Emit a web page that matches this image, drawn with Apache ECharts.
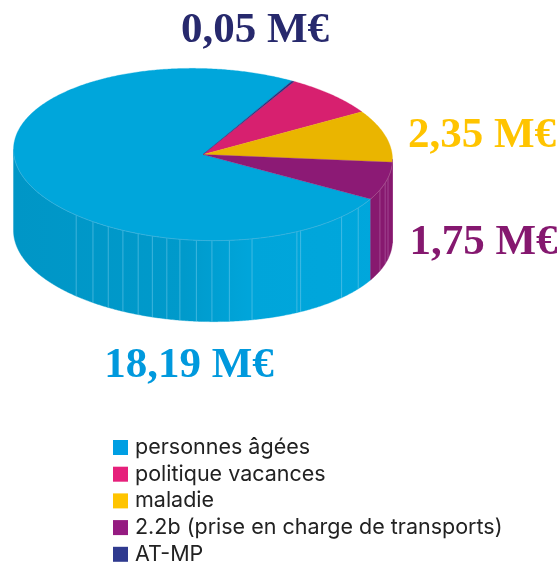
<!DOCTYPE html>
<html>
<head>
<meta charset="utf-8">
<style>html,body{margin:0;padding:0;background:#fff}#c{width:559px;height:562px}</style>
<script src="https://cdn.jsdelivr.net/npm/echarts@6/dist/echarts.min.js"></script>
</head>
<body>
<div id="c"></div>
<script>
const categories = ['personnes âgées', 'politique vacances', 'maladie', '2.2b (prise en charge de transports)', 'AT-MP'];
const values = [18.19, 1.9, 2.35, 1.75, 0.05];
const valueLabels = ['18,19 M€', null, '2,35 M€', '1,75 M€', '0,05 M€'];
const sliceOrder = [0, 3, 2, 1, 4];
const legendColors = ['#009FE3', '#E6207B', '#FFC400', '#951B81', '#2F3A8F'];
const sliceColors = ['#00A6DB', '#D7206F', '#EAB500', '#8C1A75', '#2B2E7C'];
const labelColors = ['#0099DD', '#D7206F', '#FFC400', '#85186F', '#27296D'];

const cx = 203, cy = 154.5, rx = 189.5, ry = 86, depth = 81, startAngle = 62, tilt = 0.026;
const labelAnchors = [[189, 366], null, [482, 136], [483.5, 243], [255, 31]];
const total = values.reduce((a, b) => a + b, 0);
const rad = d => d * Math.PI / 180;
const px = d => cx + rx * Math.cos(rad(d));
const py = (d, off) => cy - ry * Math.sin(rad(d)) + rx * Math.cos(rad(d)) * tilt + (off || 0);

function arcPts(a, b, off) {
  const pts = [], n = Math.max(2, Math.ceil(Math.abs(b - a) * 2));
  for (let i = 0; i <= n; i++) {
    const d = a + (b - a) * i / n;
    pts.push([px(d), py(d, off)]);
  }
  return pts;
}
function wallRanges(a, b) {
  const out = [];
  [[180, 360], [540, 720]].forEach(r => {
    const s = Math.max(a, r[0]), e = Math.min(b, r[1]);
    if (e > s) out.push([s, e]);
  });
  return out;
}
const seamRules = {
  0: { color: 'rgba(120,205,235,0.75)', angles: [228, 234.5, 240, 245, 250, 254.5, 259, 263, 268, 272.7, 278, 285, 299.7, 301, 317, 325] },
  3: { color: 'rgba(190,120,180,0.7)', angles: [339, 344, 347.5] }
};
const wallFill = [
  new echarts.graphic.LinearGradient(cx - rx, 0, cx + rx, 0, [
    { offset: 0, color: '#0096C6' }, { offset: 0.45, color: '#009ACB' }, { offset: 0.62, color: '#00A5DA' }, { offset: 1, color: '#00A7DC' }
  ], true),
  '#C01E66', '#8A1A72', '#87196F', '#2B2E7C'
];

function makeRender(idx) {
  return function (params, api) {
    const a0 = api.value(1), a1 = api.value(2);
    const children = [];
    wallRanges(a0, a1).forEach(r => {
      const top = arcPts(r[0], r[1], 0), bot = arcPts(r[1], r[0], depth);
      children.push({ type: 'polygon', z2: 1, shape: { points: top.concat(bot) },
        style: { fill: wallFill[idx], stroke: wallFill[idx], lineWidth: 0.4 } });
      children.push({ type: 'polyline', z2: 16, shape: { points: top },
        style: { fill: null, stroke: idx === 0 ? '#3FB2DC' : '#A8558F', lineWidth: 0.8 } });
    });
    const rule = seamRules[idx];
    if (rule) rule.angles.forEach(d => {
      if (d > a0 && d < a1) children.push({ type: 'line', z2: 2,
        shape: { x1: px(d), y1: py(d), x2: px(d), y2: py(d, depth) },
        style: { stroke: rule.color, lineWidth: 0.7 } });
    });
    const wedge = [[cx, cy]].concat(arcPts(a0, a1, 0));
    children.push({ type: 'polygon', z2: 10, shape: { points: wedge },
      style: { fill: sliceColors[idx], stroke: sliceColors[idx], lineWidth: 0.3 } });
    if (valueLabels[idx]) {
      const p = labelAnchors[idx];
      children.push({ type: 'text', z2: 20, x: p[0], y: p[1],
        style: { text: valueLabels[idx], fill: labelColors[idx], align: 'center', verticalAlign: 'middle',
          font: 'bold 43px "Liberation Serif"' } });
    }
    return { type: 'group', children };
  };
}

const spans = {};
let acc = startAngle;
sliceOrder.forEach(i => {
  const sweep = values[i] / total * 360;
  spans[i] = [acc, acc + sweep];
  acc += sweep;
});
const series = categories.map((name, i) => ({
  type: 'custom', name, coordinateSystem: 'none', silent: true, animation: false,
  itemStyle: { color: legendColors[i] },
  renderItem: makeRender(i),
  data: [[values[i], spans[i][0], spans[i][1]]]
}));

const chart = echarts.init(document.getElementById('c'), null, { renderer: 'canvas' });
chart.setOption({
  animation: false,
  backgroundColor: '#fff',
  legend: {
    orient: 'vertical', left: 113, top: 436.5, height: 140, padding: 0, selectedMode: false,
    itemWidth: 15, itemHeight: 15, itemGap: 4.7, icon: 'rect',
    data: categories,
    textStyle: { fontFamily: 'Inter', fontSize: 21.5, color: '#222', lineHeight: 15, padding: [0, 0, 0, 2] }
  },
  series
});
</script>
</body>
</html>
